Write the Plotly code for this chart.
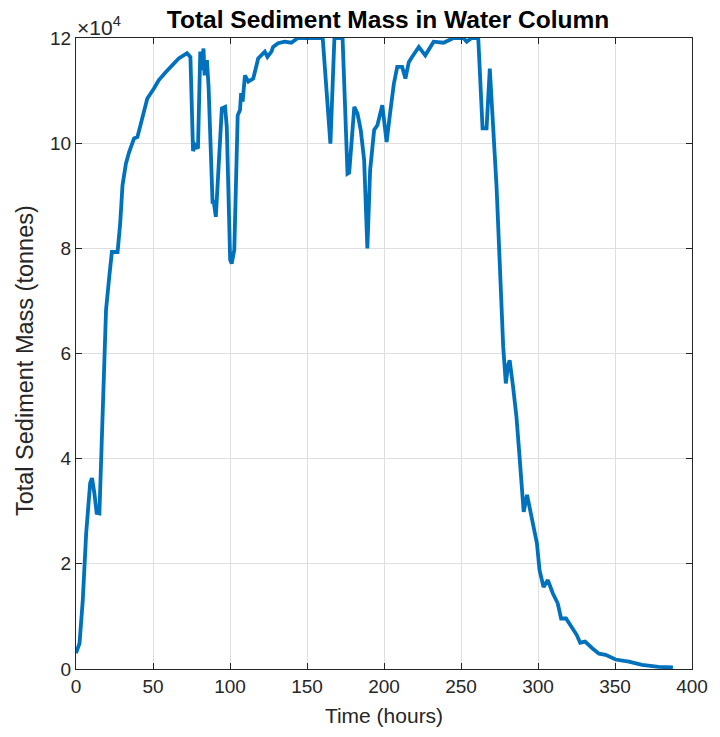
import plotly.graph_objects as go

# Time (hours)
time_h = [0, 2.3, 4.4, 6.6, 9.2, 10.4, 11.9, 13.4, 15.2, 16.2, 18.4, 19.5, 21.6, 23.3, 27.0,
          28.7, 30.2, 32.4, 34.5, 37.7, 39.9, 43.1, 46.3, 50.6, 53.8, 58.2, 62.4, 66.7, 72.1,
          74.3, 76.0, 77.5, 79.2, 80.7, 81.4, 82.8, 83.5, 85.0, 86.1, 88.7, 89.3, 90.8, 94.7,
          96.8, 97.9, 100.1, 101.1, 102.8, 105.0, 106.5, 107.2, 108.2, 109.7, 111.9, 115.1,
          118.3, 122.6, 124.3, 126.9, 128.0, 131.2, 135.5, 139.8, 144.1, 160.2, 165.2, 167.8,
          173.1, 176.3, 177.4, 180.7, 182.8, 184.9, 187.1, 189.2, 191.0, 193.6, 195.7, 198.9,
          201.7, 203.9, 206.4, 208.6, 211.8, 213.9, 216.1, 218.2, 222.6, 226.8, 229.0, 232.2,
          238.7, 245.1, 251.6, 253.7, 256.9, 261.2, 264.0, 266.6, 268.7, 273.1, 277.4, 279.1,
          280.6, 281.6, 283.8, 286.0, 287.7, 289.2, 290.7, 292.9, 294.5, 297.1, 299.3, 301.0,
          303.6, 306.4, 309.6, 312.8, 315.0, 318.2, 322.5, 325.1, 327.4, 330.6, 335.4, 339.6,
          343.9, 350.4, 359.0, 367.6, 378.3, 387.6]

# Total sediment mass (tonnes)
mass_t = [3000, 4900, 13100, 25800, 35400, 36300, 33500, 29700, 29600, 39700, 57500, 68300,
          74600, 79300, 79300, 84800, 92000, 96100, 98300, 100900, 101200, 105000, 108500,
          110400, 112000, 113500, 114800, 116100, 117100, 116400, 98500, 99600, 99000, 117400,
          113900, 118000, 112900, 115800, 110700, 88500, 89200, 86000, 106600, 106900, 103100,
          77800, 77100, 79700, 105300, 106300, 109500, 107900, 112900, 111700, 112300, 116100,
          117400, 116400, 117400, 118300, 119000, 119300, 119100, 120000, 120000, 99900, 120000,
          120000, 94200, 94400, 106900, 105600, 102500, 96800, 80000, 94900, 102500, 103400,
          107200, 100200, 105600, 111300, 114500, 114500, 112300, 115400, 116400, 118300,
          116700, 117700, 119300, 119100, 120000, 120000, 119300, 120000, 120000, 102800,
          102800, 114200, 91700, 61300, 54300, 57800, 58700, 53700, 48000, 41600, 34700, 29900,
          33100, 30900, 27700, 23900, 18800, 15600, 16900, 14400, 12500, 9600, 9600, 7700, 6500,
          5000, 5200, 3900, 2900, 2700, 1800, 1400, 800, 400, 300]

x_ticks = [0, 50, 100, 150, 200, 250, 300, 350, 400]
y_ticks = [0, 20000, 40000, 60000, 80000, 100000, 120000]
y_tick_text = ["0", "2", "4", "6", "8", "10", "12"]

title_text = "Total Sediment Mass in Water Column"
x_label = "Time (hours)"
y_label = "Total Sediment Mass (tonnes)"

FONT = "Liberation Sans, Arial, Helvetica, sans-serif"
DARK = "#262626"
GRID = "#DFDFDF"

fig = go.Figure()
fig.add_trace(go.Scatter(x=time_h, y=mass_t, mode="lines",
                         line=dict(color="#0072BD", width=3.8), showlegend=False))

axis_common = dict(showline=True, linecolor=DARK, linewidth=1, mirror="ticks",
                   ticks="inside", ticklen=6, tickcolor=DARK, tickwidth=1,
                   showgrid=True, gridcolor=GRID, gridwidth=1, zeroline=False,
                   tickfont=dict(family=FONT, size=19, color=DARK))

fig.update_layout(
    width=720, height=737,
    margin=dict(l=76, r=23, t=38, b=68),
    paper_bgcolor="white", plot_bgcolor="white",
    title=dict(text="<b>" + title_text + "</b>", x=388 / 720, xanchor="center",
               y=1 - 19 / 737, yanchor="middle", yref="container",
               font=dict(family=FONT, size=24.5, color="black")),
    xaxis=dict(range=[0, 400], tickvals=x_ticks,
               title=dict(text=x_label, font=dict(family=FONT, size=21, color=DARK), standoff=12),
               **axis_common),
    yaxis=dict(range=[0, 120000], tickvals=y_ticks, ticktext=y_tick_text,
               **axis_common),
    annotations=[
        dict(text="×10<sup>4</sup>", xref="paper", yref="paper", x=0, y=1,
             xanchor="left", yanchor="bottom", showarrow=False, xshift=-1, yshift=-3,
             font=dict(family=FONT, size=21, color=DARK)),
        dict(text=y_label, xref="paper", yref="paper", x=0, y=0.488, textangle=-90,
             xanchor="center", yanchor="middle", showarrow=False, xshift=-51,
             font=dict(family=FONT, size=23.5, color=DARK)),
    ],
)

fig.write_html("out.html")
